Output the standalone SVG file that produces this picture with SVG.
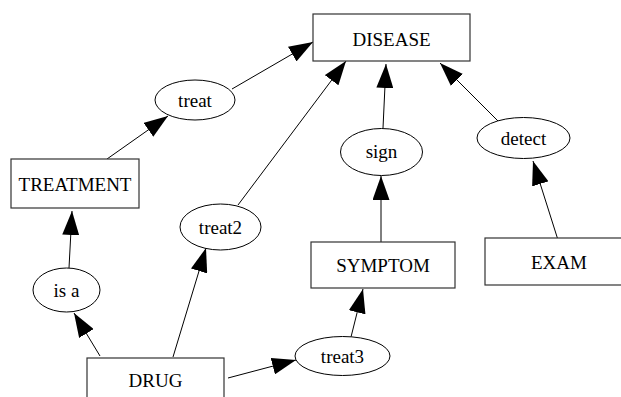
<svg xmlns="http://www.w3.org/2000/svg" width="621" height="397" viewBox="0 0 621 397" font-family="'Liberation Serif', serif">
<style>
.box{fill:#fff;stroke:#333;stroke-width:1.2}
.ell{fill:#fff;stroke:#000;stroke-width:1}
text{font-family:'Liberation Serif',serif;font-size:19px;fill:#000;text-anchor:middle}
.edge{stroke:#000;stroke-width:1;fill:none;marker-end:url(#ah)}
</style>
<defs>
<marker id="ah" markerUnits="userSpaceOnUse" markerWidth="24" markerHeight="17" refX="24" refY="8.5" orient="auto" viewBox="0 0 24 17">
<path d="M0,0 L24,8.5 L0,17 z" fill="#000"/>
</marker>
</defs>
<rect width="621" height="397" fill="#fff"/>
<g id="connectors">
<line class="edge" x1="232" y1="89" x2="313" y2="42"/>
<line class="edge" x1="107" y1="159" x2="168" y2="116"/>
<line class="edge" x1="238" y1="205" x2="346" y2="61"/>
<line class="edge" x1="383" y1="128" x2="386" y2="64"/>
<line class="edge" x1="498" y1="121" x2="440" y2="63"/>
<line class="edge" x1="558" y1="240" x2="533" y2="161"/>
<line class="edge" x1="381" y1="242" x2="381" y2="176"/>
<line class="edge" x1="351" y1="337" x2="363" y2="289"/>
<line class="edge" x1="100" y1="356" x2="74" y2="313"/>
<line class="edge" x1="69" y1="268" x2="72" y2="211"/>
<line class="edge" x1="173" y1="357" x2="206" y2="248"/>
<line class="edge" x1="228" y1="378" x2="296" y2="360"/>
</g>
<g id="disease"><rect class="box" x="313" y="14" width="157" height="47"/><text x="391.5" y="46">DISEASE</text></g>
<g id="treat"><ellipse class="ell" cx="195" cy="100" rx="40" ry="20"/><text x="195" y="107">treat</text></g>
<g id="treatment"><rect class="box" x="11" y="159" width="128" height="49"/><text x="75" y="191">TREATMENT</text></g>
<g id="sign"><ellipse class="ell" cx="381.5" cy="152" rx="41" ry="23.5"/><text x="381.5" y="158">sign</text></g>
<g id="detect"><ellipse class="ell" cx="523.5" cy="138" rx="46.5" ry="20.5"/><text x="523.5" y="145">detect</text></g>
<g id="treat2"><ellipse class="ell" cx="220.5" cy="227" rx="40.5" ry="23"/><text x="220.5" y="234">treat2</text></g>
<g id="isa"><ellipse class="ell" cx="66.5" cy="290" rx="33.5" ry="22"/><text x="66.5" y="297">is a</text></g>
<g id="symptom"><rect class="box" x="311" y="242" width="144" height="46"/><text x="383" y="272">SYMPTOM</text></g>
<g id="exam"><rect class="box" x="485" y="238" width="148" height="47"/><text x="559" y="269">EXAM</text></g>
<g id="treat3"><ellipse class="ell" cx="342.5" cy="356" rx="47.5" ry="19.5"/><text x="342.5" y="363">treat3</text></g>
<g id="drug"><rect class="box" x="87" y="358" width="137" height="47"/><text x="155.5" y="387">DRUG</text></g>
</svg>
